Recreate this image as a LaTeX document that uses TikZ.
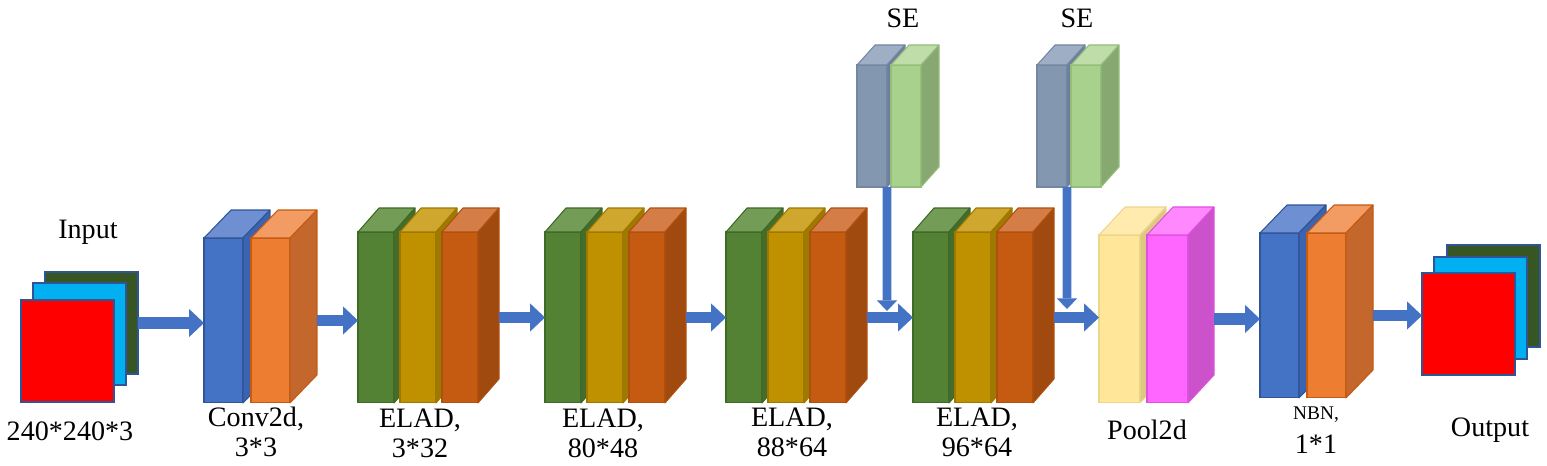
\documentclass[tikz,border=0pt]{standalone}
\usepackage{fontspec}
\setmainfont{Liberation Serif}
\usetikzlibrary{arrows.meta}
\definecolor{bluF}{HTML}{4472C4}\definecolor{bluS}{HTML}{3A63B0}\definecolor{bluT}{HTML}{6E90D2}\definecolor{bluE}{HTML}{2F5597}
\definecolor{orgF}{HTML}{ED7D31}\definecolor{orgS}{HTML}{C4672C}\definecolor{orgT}{HTML}{F29B62}\definecolor{orgE}{HTML}{C55A11}
\definecolor{elgF}{HTML}{548235}\definecolor{elgS}{HTML}{446C2A}\definecolor{elgT}{HTML}{739C57}\definecolor{elgE}{HTML}{3E6A25}
\definecolor{elyF}{HTML}{BF9000}\definecolor{elyS}{HTML}{9E7A00}\definecolor{elyT}{HTML}{CFA72E}\definecolor{elyE}{HTML}{A07800}
\definecolor{eloF}{HTML}{C55A11}\definecolor{eloS}{HTML}{A04A10}\definecolor{eloT}{HTML}{D47D46}\definecolor{eloE}{HTML}{B0500E}
\definecolor{segF}{HTML}{8497B0}\definecolor{segS}{HTML}{6C7F98}\definecolor{segT}{HTML}{9EAEC4}\definecolor{segE}{HTML}{7587A0}
\definecolor{selF}{HTML}{A9D18E}\definecolor{selS}{HTML}{88A872}\definecolor{selT}{HTML}{BEDDA8}\definecolor{selE}{HTML}{95BE7A}
\definecolor{plyF}{HTML}{FFE699}\definecolor{plyS}{HTML}{DDC883}\definecolor{plyT}{HTML}{FFEBAE}\definecolor{plyE}{HTML}{EBD68A}
\definecolor{plpF}{HTML}{FF66FF}\definecolor{plpS}{HTML}{CC52CC}\definecolor{plpT}{HTML}{FF88FF}\definecolor{plpE}{HTML}{E050E0}
\definecolor{redF}{HTML}{FF0000}\definecolor{redE}{HTML}{2F5597}
\definecolor{cyaF}{HTML}{00B0F0}\definecolor{cyaE}{HTML}{2F5597}
\definecolor{dgrF}{HTML}{375623}\definecolor{dgrE}{HTML}{2F5597}
\definecolor{arr}{HTML}{4472C4}
\tikzset{fr/.style = {draw=#1E, fill=#1F, line width=0.6pt, inner sep=0pt, outer sep=0pt, anchor=north west},
           cv/.style = {fr=#1, minimum width=7.8mm, minimum height=33mm},
           el/.style = {fr=#1, minimum width=7.2mm, minimum height=34.2mm},
           se/.style = {fr=#1, minimum width=6.0mm, minimum height=24.4mm},
           pl/.style = {fr=#1, minimum width=8.2mm, minimum height=33.6mm},
           sq/.style = {fr=#1, minimum width=18.6mm, minimum height=20.4mm},
           lb/.style = {font=\fontsize{16}{17}\selectfont, align=center, inner sep=0pt},
           fl/.style = {arr, line width=6.8pt, -{Triangle[width=16pt, length=8.5pt, line width=0pt]}},
           fs/.style = {arr, line width=5pt, -{Triangle[width=11.5pt, length=6pt, line width=0pt]}}}
% top and side of a block
\newcommand{\slab}[4]{%
  \filldraw[draw=#4E, fill=#4T, line width=0.6pt, line join=round] (#1.north west) -- ++(#2,-#3) -- ([shift={(#2,-#3)}]#1.north east) -- (#1.north east) -- cycle;
  \filldraw[draw=#4E, fill=#4S, line width=0.6pt, line join=round] (#1.north east) -- ++(#2,-#3) -- ([shift={(#2,-#3)}]#1.south east) -- (#1.south east) -- cycle;
  \coordinate (#1-back) at ([shift={(#2,0)}]#1.east);}

\begin{document}
\begin{tikzpicture}[x=0.02cm, y=-0.02cm]
    \useasboundingbox (0,0) rectangle (1547,466);
    % input
    \node[sq=dgr] (in1) at (45,272) {}; \node[sq=cya] (in2) at (33,283) {}; \node[sq=red] (in3) at (21,300) {};
    \node[lb] (tin) at (88,232) {Input};
    \node[lb] (tsz) at (70,431) {240*240*3};
    % conv
    \node[cv=blu] (cv1) at (204,238) {}; \slab{cv1}{27}{28}{blu}
    \node[cv=org] (cv2) at (251,238) {}; \slab{cv2}{27}{28}{org}
    \node[lb] (tcv) at (256,432) {Conv2d,\\3*3};
    % ELAD blocks
    \node[el=elg] (e1a) at (358,232) {}; \slab{e1a}{21}{24}{elg}
    \node[el=ely] (e1b) at (400,232) {}; \slab{e1b}{21}{24}{ely}
    \node[el=elo] (e1c) at (442,232) {}; \slab{e1c}{21}{24}{elo}
    \node[lb] (te1) at (420,433) {ELAD,\\3*32};
    \node[el=elg] (e2a) at (545,232) {}; \slab{e2a}{21}{24}{elg}
    \node[el=ely] (e2b) at (587,232) {}; \slab{e2b}{21}{24}{ely}
    \node[el=elo] (e2c) at (629,232) {}; \slab{e2c}{21}{24}{elo}
    \node[lb] (te2) at (603,433) {ELAD,\\80*48};
    \node[el=elg] (e3a) at (726,232) {}; \slab{e3a}{21}{24}{elg}
    \node[el=ely] (e3b) at (768,232) {}; \slab{e3b}{21}{24}{ely}
    \node[el=elo] (e3c) at (810,232) {}; \slab{e3c}{21}{24}{elo}
    \node[lb] (te3) at (792,432) {ELAD,\\88*64};
    \node[el=elg] (e4a) at (913,232) {}; \slab{e4a}{21}{24}{elg}
    \node[el=ely] (e4b) at (955,232) {}; \slab{e4b}{21}{24}{ely}
    \node[el=elo] (e4c) at (997,232) {}; \slab{e4c}{21}{24}{elo}
    \node[lb] (te4) at (977,432) {ELAD,\\96*64};
    % SE
    \node[se=seg] (s1a) at (857,65) {}; \slab{s1a}{18}{20}{seg}
    \node[se=sel] (s1b) at (891,65) {}; \slab{s1b}{18}{20}{sel}
    \node[lb] (ts1) at (903,18) {SE};
    \node[se=seg] (s2a) at (1037,65) {}; \slab{s2a}{18}{20}{seg}
    \node[se=sel] (s2b) at (1071,65) {}; \slab{s2b}{18}{20}{sel}
    \node[lb] (ts2) at (1077,18) {SE};
    % pooling, NBN
    \node[pl=ply] (py) at (1099,235) {}; \slab{py}{26}{28}{ply}
    \node[pl=plp] (pp) at (1147,235) {}; \slab{pp}{26}{28}{plp}
    \node[lb] (tpl) at (1147,430) {Pool2d};
    \node[cv=blu] (nb1) at (1260,233) {}; \slab{nb1}{27}{28}{blu}
    \node[cv=org] (nb2) at (1307,233) {}; \slab{nb2}{27}{28}{org}
    \node[lb] (tnb) at (1316,430) {{\fontsize{11}{12}\selectfont NBN,}\\[2pt]1*1};
    % output
    \node[sq=dgr] (out1) at (1447,245) {}; \node[sq=cya] (out2) at (1434,257) {}; \node[sq=red] (out3) at (1422,273) {};
    \node[lb] (tout) at (1490,430) {Output};
    % arrows
    \draw[fl] (in1.east) -- (in1.east -| cv1.west);
    \draw[fl] (cv2-back) -- (cv2-back -| e1a.west);
    \draw[fl] (e1c-back) -- (e1c-back -| e2a.west);
    \draw[fl] (e2c-back) -- (e2c-back -| e3a.west);
    \draw[fl] (e3c-back) -- (e3c-back -| e4a.west);
    \draw[fl] (e4c-back) -- (e4c-back -| py.west);
    \draw[fl] (pp-back) -- (pp-back -| nb1.west);
    \draw[fl] (nb2-back) -- (nb2-back -| out3.west);
    \coordinate (j1) at (887,311); \coordinate (j2) at (1067,309);
    \draw[fs] (s1a.south east) -- (j1);
    \draw[fs] (s2a.south east) -- (j2);
\end{tikzpicture}
\end{document}
